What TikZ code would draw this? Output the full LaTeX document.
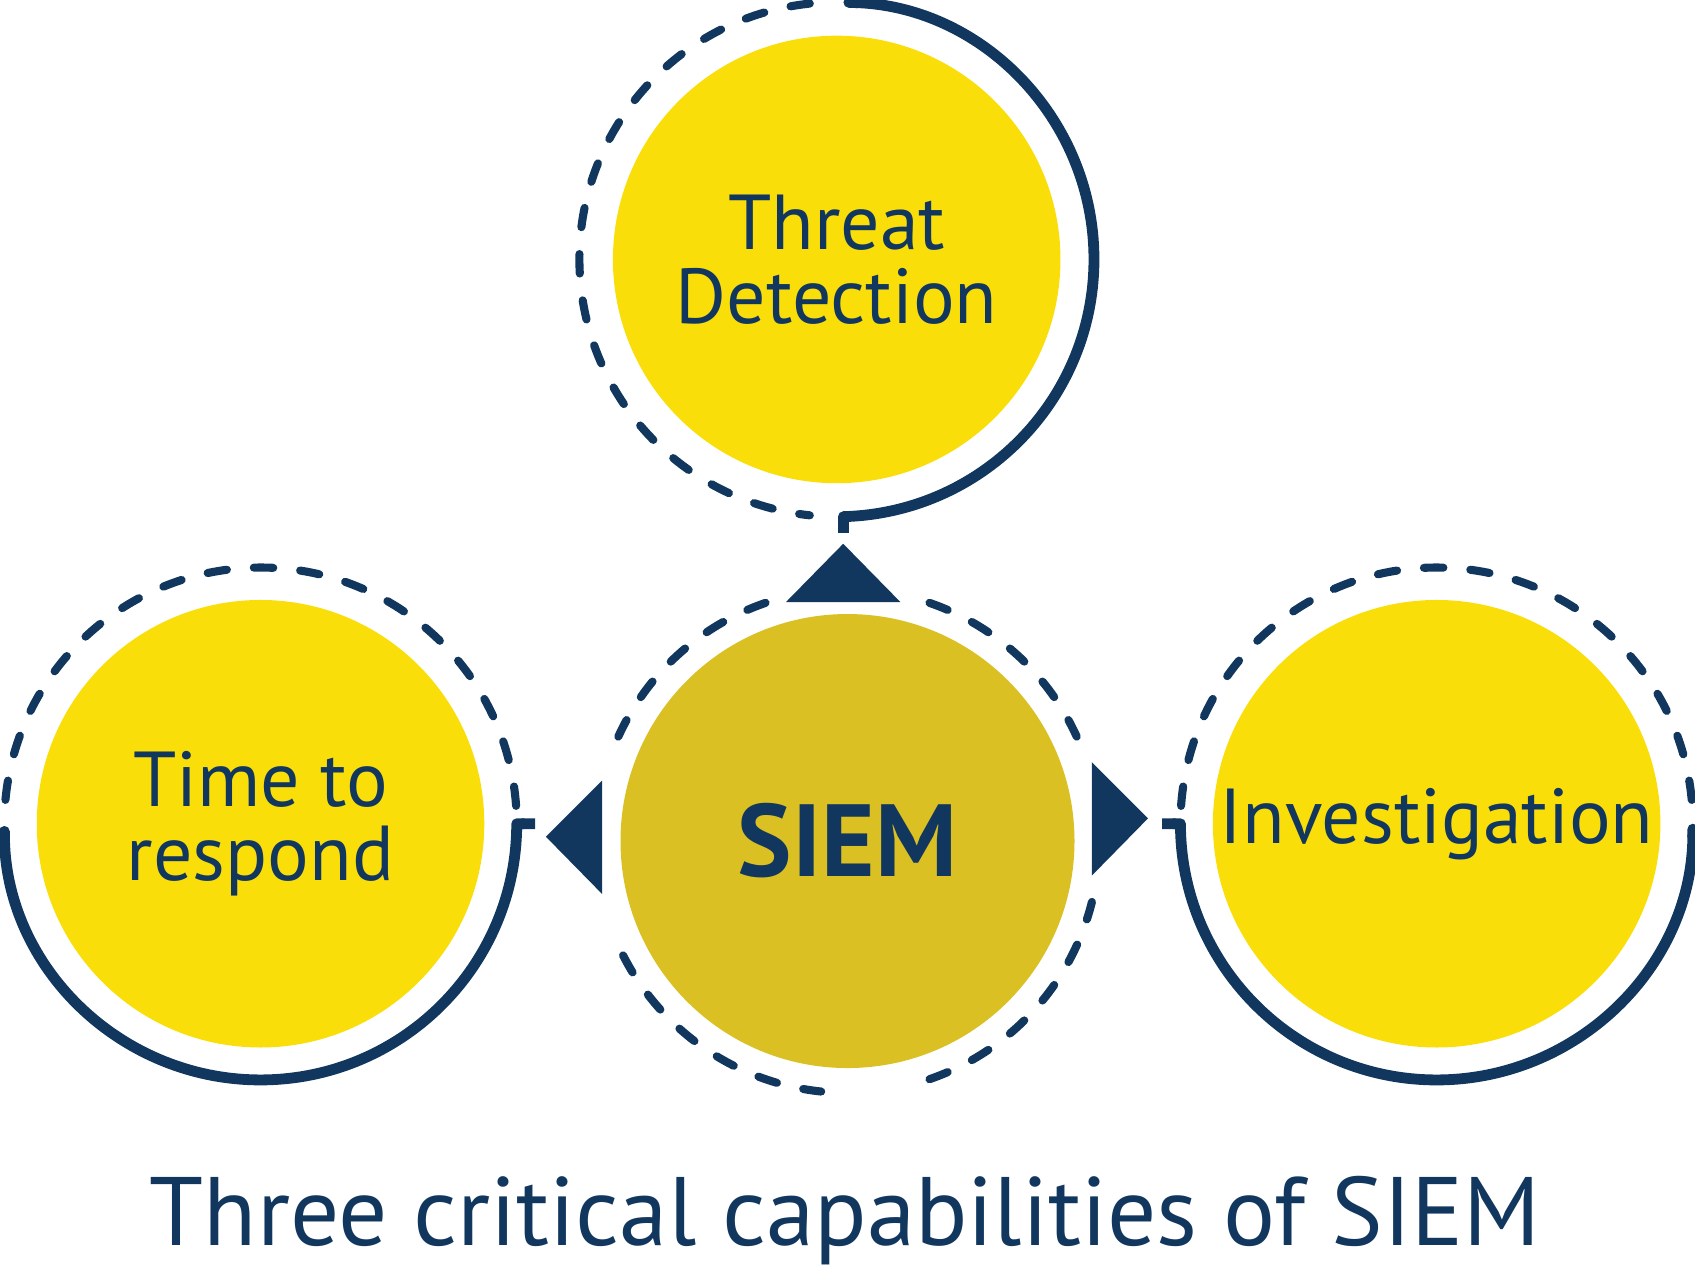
\documentclass[tikz,border=0pt]{standalone}
\usepackage{fontspec}
\setmainfont{PT Sans}
\usepackage{xcolor}
\usepackage{tikz}
\usetikzlibrary{arrows.meta}
\definecolor{navy}{RGB}{18,55,94}
\definecolor{capyellow}{RGB}{249,222,10}
\definecolor{hubgold}{RGB}{219,192,36}

\begin{document}
\begin{tikzpicture}[
      ability/.style={circle, fill=capyellow, minimum size=4.14cm, inner sep=0pt,
                  align=center, text=navy, font=\fontsize{20.5}{19.5}\selectfont},
      hub/.style={circle, fill=hubgold, minimum size=4.2cm, inner sep=0pt,
                  text=navy, font=\fontsize{27}{28}\selectfont\bfseries},
      ring/.style={draw=navy, line width=0.1cm, line join=round,
                   arrows={Round Cap-Butt Cap}},
      dring/.style={draw=navy, line width=0.075cm, line cap=round,
                    dash pattern=on 0.18cm off 0.25cm},
      tip/.style={fill=navy}
    ]
    \useasboundingbox (0,0) rectangle (15.68,-11.77);
    % Nodes
    \node[ability] (td)  at (7.74,-2.40)  {Threat\\Detection};
    \node[ability] (ttr) at (2.41,-7.62)  {Time to\\respond};
    \node[ability] (inv) at (13.29,-7.62) {Investigation};
    \node[hub] (siem) at (7.84,-7.78) {SIEM};
    \node[text=navy, font=\fontsize{25.6}{27}\selectfont, anchor=base]
      (title) at (7.82,-11.52) {Three critical capabilities of SIEM};
    % Rings round the capabilities
    \draw[ring] ([shift={(88.5:2.38)}]td.center)
      arc[start angle=88.5, end angle=-88.5, radius=2.38] -- ++(0,-0.15);
    \draw[dring] ([shift={(96:2.38)}]td.center)
      arc[start angle=96, end angle=264, radius=2.38];
    \draw[ring] ([shift={(180.5:2.37)}]ttr.center)
      arc[start angle=180.5, end angle=360, radius=2.37] -- ++(0.17,0);
    \draw[dring] ([shift={(4:2.37)}]ttr.center)
      arc[start angle=4, end angle=176, radius=2.37];
    \draw[ring] ([shift={(0:2.37)}]inv.center)
      arc[start angle=0, end angle=-180, radius=2.37] -- ++(-0.17,0);
    \draw[dring] ([shift={(176:2.37)}]inv.center)
      arc[start angle=176, end angle=4, radius=2.37];
    % Dashed ring round SIEM, broken at the tips
    \draw[dring] ([shift={(71:2.33)}]siem.center)
      arc[start angle=71, end angle=24.5, radius=2.33];
    \draw[dring] ([shift={(109:2.33)}]siem.center)
      arc[start angle=109, end angle=155.5, radius=2.33];
    \draw[dring] ([shift={(207:2.33)}]siem.center)
      arc[start angle=207, end angle=264, radius=2.33];
    \draw[dring] ([shift={(289:2.33)}]siem.center)
      arc[start angle=289, end angle=346, radius=2.33];
    % Tips
    \fill[tip] (7.80,-5.03) -- (7.27,-5.57) -- (8.33,-5.57) -- cycle;
    \fill[tip] (5.05,-7.74) -- (5.57,-7.22) -- (5.57,-8.27) -- cycle;
    \fill[tip] (10.62,-7.57) -- (10.10,-7.05) -- (10.10,-8.10) -- cycle;
  \end{tikzpicture}
\end{document}
